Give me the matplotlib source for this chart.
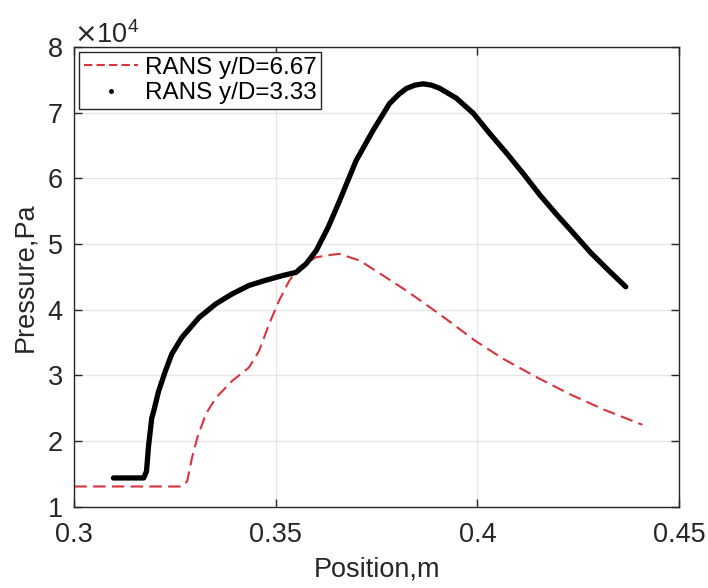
import numpy as np
import matplotlib
matplotlib.use("Agg")
import matplotlib.pyplot as plt
from matplotlib.lines import Line2D
from matplotlib.ticker import ScalarFormatter

plt.rcParams['font.family'] = ['Liberation Sans', 'DejaVu Sans']

# RANS y/D=6.67 (red dashed)
x_far = [0.3000, 0.3267, 0.3280, 0.3292, 0.3305, 0.3326, 0.3351, 0.3392, 0.3433,
         0.3458, 0.3483, 0.3508, 0.3533, 0.3558, 0.3600, 0.3641, 0.3658, 0.3708,
         0.3741, 0.3824, 0.3907, 0.3994, 0.4065, 0.4148, 0.4231, 0.4314, 0.4409]
p_far = [13100, 13100, 13900, 17500, 20500, 24100, 26600, 29200, 31200,
         33700, 37800, 41400, 44400, 46500, 48000, 48400, 48500, 47500,
         46200, 42900, 39300, 35300, 32500, 29700, 27100, 24800, 22500]

# RANS y/D=3.33 (black dots)
x_near = [0.3097, 0.3172, 0.3179, 0.3184, 0.3192, 0.3197, 0.3209, 0.3226, 0.3242,
          0.3267, 0.3309, 0.3351, 0.3391, 0.3433, 0.3475, 0.3516, 0.3550, 0.3575,
          0.3600, 0.3630, 0.3658, 0.3699, 0.3741, 0.3782, 0.3805, 0.3824, 0.3845,
          0.3865, 0.3886, 0.3907, 0.3948, 0.3990, 0.4031, 0.4073, 0.4114, 0.4156,
          0.4198, 0.4239, 0.4281, 0.4322, 0.4368]
p_near = [14400, 14400, 15400, 19200, 23500, 24600, 27600, 30700, 33300,
          35800, 38800, 40900, 42400, 43700, 44500, 45200, 45700, 47000,
          49000, 52600, 56600, 62700, 67300, 71400, 72800, 73700, 74200,
          74400, 74200, 73700, 72200, 69900, 66800, 63800, 60700, 57400,
          54400, 51600, 48700, 46200, 43500]

xticks = [0.3, 0.35, 0.4, 0.45]
xtick_labels = ['0.3', '0.35', '0.4', '0.45']
yticks = [10000, 20000, 30000, 40000, 50000, 60000, 70000, 80000]

fs = 19.5
fig = plt.figure(figsize=(7.08, 5.88), dpi=100)
ax = fig.add_axes([0.105, 0.138, 0.854, 0.782])

red = '#d8343e'
ax.plot(x_far, p_far, color=red, lw=1.5, linestyle=(0, (6, 3)))
ax.plot(x_near, p_near, color='black', lw=3.8, solid_capstyle='round',
        solid_joinstyle='round')

ax.set_xlim(0.3, 0.45)
ax.set_ylim(10000, 80000)
ax.set_xticks(xticks)
ax.set_xticklabels(xtick_labels)
ax.set_yticks(yticks)
fmt = ScalarFormatter(useMathText=True)
fmt.set_powerlimits((0, 0))
ax.yaxis.set_major_formatter(fmt)
ax.yaxis.get_offset_text().set_fontsize(fs)
ax.yaxis.get_offset_text().set_color('#262626')

ax.grid(True, color='#e6e6e6', lw=1)
ax.set_axisbelow(True)
ax.tick_params(direction='in', top=True, right=True, labelsize=fs,
               length=6, width=1, colors='#262626')
ax.tick_params(axis='x', pad=11)
ax.tick_params(axis='y', pad=8)
for s in ax.spines.values():
    s.set_color('#262626')
    s.set_linewidth(1)

ax.set_xlabel('Position,m', fontsize=fs, color='#262626', labelpad=6)
ax.set_ylabel('Pressure,Pa', fontsize=fs, color='#262626', labelpad=6)

handles = [Line2D([], [], color=red, lw=1.5, linestyle=(0, (4, 2))),
           Line2D([], [], color='black', linestyle='none', marker='.', ms=5)]
leg = ax.legend(handles, ['RANS y/D=6.67', 'RANS y/D=3.33'], loc='upper left',
                fontsize=17.5, frameon=True, fancybox=False, framealpha=1,
                edgecolor='#262626', borderpad=0.2, labelspacing=0.15,
                handlelength=2.2, handletextpad=0.3, borderaxespad=0.2)
leg.get_frame().set_linewidth(1)

fig.savefig('out.png', dpi=100)
